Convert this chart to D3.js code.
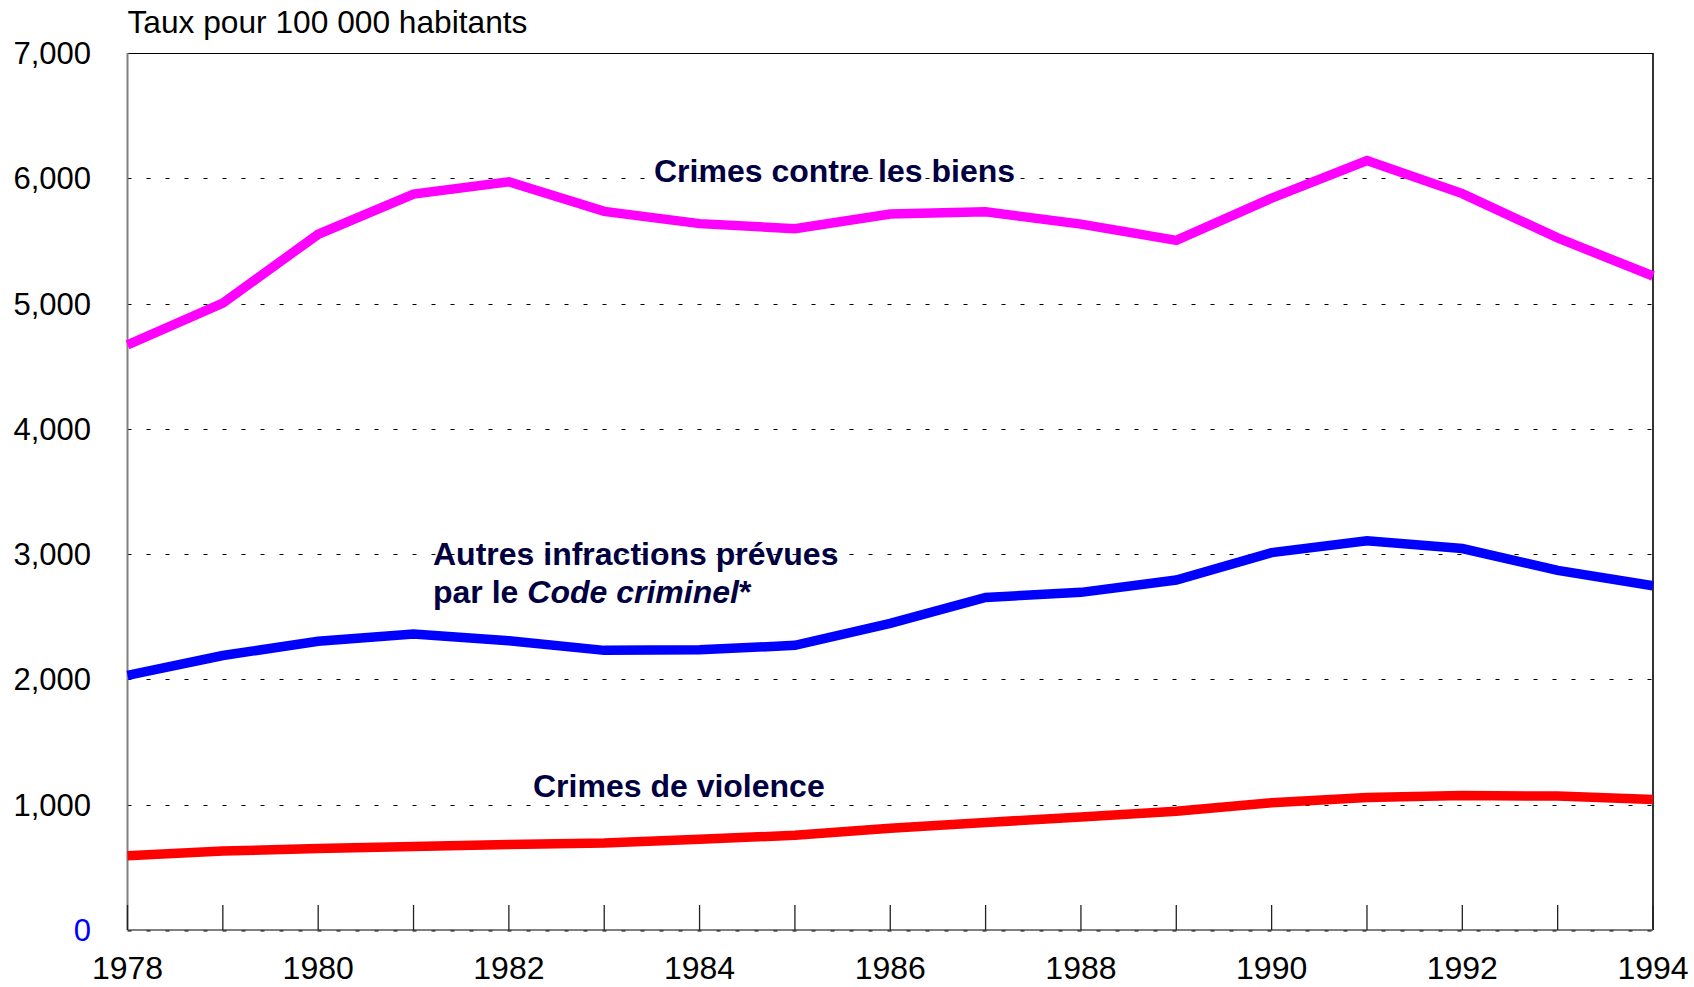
<!DOCTYPE html>
<html>
<head>
<meta charset="utf-8">
<script src="https://cdn.jsdelivr.net/npm/d3@7"></script>
<style>
  html, body { margin: 0; padding: 0; background: #fff; }
  svg { display: block; }
  text { font-family: "Liberation Sans", Arial, sans-serif; }
</style>
</head>
<body>
<svg id="chart" width="1694" height="987"></svg>
<script>
// Taux de criminalité au Canada, 1978-1994 (pour 100 000 habitants)
const years = [1978, 1979, 1980, 1981, 1982, 1983, 1984, 1985, 1986,
               1987, 1988, 1989, 1990, 1991, 1992, 1993, 1994];
const crimesBiens = [4671, 5004, 5553, 5874, 5972, 5736, 5638, 5598, 5715,
                     5732, 5634, 5504, 5841, 6142, 5878, 5524, 5220];
const autresInfractions = [2033, 2191, 2305, 2362, 2309, 2232, 2236, 2272, 2447,
                           2654, 2695, 2793, 3012, 3106, 3045, 2870, 2748];
const crimesViolence = [593, 630, 650, 667, 683, 695, 724, 756, 813,
                        858, 902, 947, 1016, 1057, 1073, 1069, 1041];
const yTicks = [0, 1000, 2000, 3000, 4000, 5000, 6000, 7000];
const xLabelYears = [1978, 1980, 1982, 1984, 1986, 1988, 1990, 1992, 1994];

const svg = d3.select("#chart");
const plotLeft = 127.5, plotRight = 1653, plotTop = 53, plotBottom = 930;

const x = d3.scaleLinear().domain([1978, 1994]).range([plotLeft, plotRight]);
const y = d3.scaleLinear().domain([0, 7000]).range([plotBottom, plotTop]);

// dotted horizontal gridlines
svg.append("g")
  .selectAll("line")
  .data(yTicks.filter(v => v > 0 && v < 7000))
  .join("line")
  .attr("x1", plotLeft).attr("x2", plotRight)
  .attr("y1", d => Math.round(y(d)) + 0.5).attr("y2", d => Math.round(y(d)) + 0.5)
  .attr("stroke", "#000").attr("stroke-width", 1)
  .attr("stroke-dasharray", "4,15");

// frame: grey left and bottom axes, black top and right
svg.append("line").attr("x1", plotLeft).attr("x2", plotRight).attr("y1", plotTop + 0.5).attr("y2", plotTop + 0.5)
  .attr("stroke", "#000").attr("stroke-width", 1.2);
svg.append("line").attr("x1", plotRight).attr("x2", plotRight).attr("y1", plotTop).attr("y2", plotBottom)
  .attr("stroke", "#000").attr("stroke-width", 1.6);
svg.append("line").attr("x1", plotLeft).attr("x2", plotLeft).attr("y1", plotTop).attr("y2", plotBottom)
  .attr("stroke", "#808080").attr("stroke-width", 2);
svg.append("line").attr("x1", plotLeft).attr("x2", plotRight).attr("y1", plotBottom).attr("y2", plotBottom)
  .attr("stroke", "#808080").attr("stroke-width", 2);
svg.append("line").attr("x1", plotLeft).attr("x2", plotRight).attr("y1", plotBottom + 1).attr("y2", plotBottom + 1)
  .attr("stroke", "#000").attr("stroke-width", 1).attr("stroke-dasharray", "4,15");

// year ticks pointing inward
svg.append("g")
  .selectAll("line")
  .data(years)
  .join("line")
  .attr("x1", d => x(d)).attr("x2", d => x(d))
  .attr("y1", plotBottom).attr("y2", plotBottom - 25)
  .attr("stroke", "#222").attr("stroke-width", 1.3);

// y-axis labels
const fmt = d3.format(",");
svg.append("g")
  .selectAll("text")
  .data(yTicks)
  .join("text")
  .attr("x", 91).attr("y", d => y(d) + 11)
  .attr("text-anchor", "end")
  .attr("font-size", 31)
  .attr("fill", d => d === 0 ? "#0000ff" : "#000")
  .text(d => fmt(d));

// x-axis labels
svg.append("g")
  .selectAll("text")
  .data(xLabelYears)
  .join("text")
  .attr("x", d => x(d)).attr("y", 979)
  .attr("text-anchor", "middle")
  .attr("font-size", 32)
  .attr("fill", "#000")
  .text(d => d);

// axis title
svg.append("text")
  .attr("x", 127.5).attr("y", 33)
  .attr("font-size", 31.7)
  .attr("fill", "#000")
  .text("Taux pour 100 000 habitants");

// series lines
const line = d3.line().x((d, i) => x(years[i])).y(d => y(d));
const series = [
  { values: crimesViolence, color: "#ff0000" },
  { values: autresInfractions, color: "#0000ff" },
  { values: crimesBiens, color: "#ff00ff" }
];
svg.append("g")
  .selectAll("path")
  .data(series)
  .join("path")
  .attr("d", d => line(d.values))
  .attr("fill", "none")
  .attr("stroke", d => d.color)
  .attr("stroke-width", 9.5)
  .attr("stroke-linejoin", "miter");

// series labels
const labelColor = "#000040";
svg.append("text")
  .attr("x", 654).attr("y", 182)
  .attr("font-size", 32).attr("font-weight", "bold").attr("fill", labelColor)
  .text("Crimes contre les biens");

const t2 = svg.append("text")
  .attr("font-size", 32).attr("font-weight", "bold").attr("fill", labelColor);
t2.append("tspan").attr("x", 433).attr("y", 565).text("Autres infractions prévues");
t2.append("tspan").attr("x", 433).attr("y", 603).text("par le ");
t2.append("tspan").attr("font-style", "italic").text("Code criminel");
t2.append("tspan").text("*");

svg.append("text")
  .attr("x", 533).attr("y", 797)
  .attr("font-size", 32).attr("font-weight", "bold").attr("fill", labelColor)
  .text("Crimes de violence");
</script>
</body>
</html>
